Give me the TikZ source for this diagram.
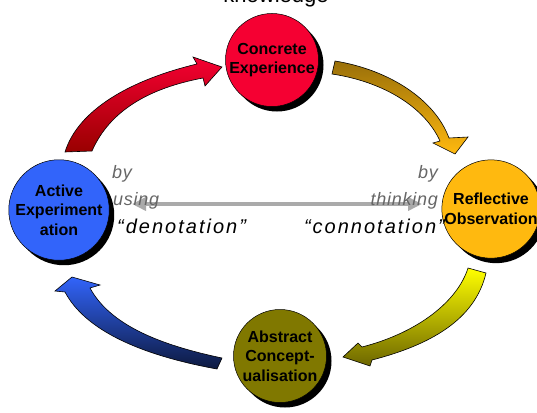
\documentclass[tikz,border=0pt]{standalone}
\usepackage{fontspec}
\setmainfont{Liberation Sans}
\usepackage{tikz}
\usetikzlibrary{shadows,arrows.meta}
\definecolor{cered}{RGB}{245,0,50}
\definecolor{ceblue}{RGB}{50,100,250}
\definecolor{ceorange}{RGB}{255,185,15}
\definecolor{ceolive}{RGB}{128,120,0}
\definecolor{barcol}{RGB}{170,170,170}

\begin{document}
\begin{tikzpicture}[x=1pt,y=-1pt,
    stage/.style={circle, draw=black, line width=0.5pt, minimum size=93pt, inner sep=0pt,
      align=center, font=\fontsize{16}{19.5}\selectfont\bfseries,
      drop shadow={shadow xshift=5pt, shadow yshift=-5pt, opacity=1, fill=black}},
    hint/.style={inner sep=0pt, text=black!60,
      font=\fontsize{18}{18}\selectfont\itshape\addfontfeatures{LetterSpace=4}},
    term/.style={inner sep=0pt,
      font=\fontsize{20}{20}\selectfont\itshape\addfontfeatures{LetterSpace=10}},
    fat/.style={draw=black, line width=0.6pt}]
    \useasboundingbox (0,0) rectangle (537,412);
    %% big curved arrows
    \shade[fat, top color=cered, bottom color=red!60!black]
      (65,152) .. controls (78,110) and (130,80) .. (197,64) -- (193,57) -- (222,67)
      -- (205,86) -- (203,78) .. controls (150,88) and (110,110) .. (92,151) -- cycle;
    \shade[fat, top color=ceorange!60!black, bottom color=ceorange]
      (335,61) .. controls (390,70) and (435,100) .. (449,138) -- (468,137) -- (455,154)
      -- (433,143) -- (440,141) .. controls (425,108) and (385,82) .. (332,74) -- cycle;
    \shade[fat, top color=yellow, bottom color=ceolive!85!black]
      (468,268) -- (486,273) .. controls (475,320) and (430,345) .. (372,360) -- (370,366)
      -- (343,357) -- (358,343) -- (362,347) .. controls (420,332) and (458,300) .. (468,268) -- cycle;
    \shade[fat, top color=ceblue, bottom color=ceblue!25!black]
      (217,369) .. controls (140,355) and (85,330) .. (65,292) -- (55,291) -- (72,277)
      -- (100,285) -- (90,288) .. controls (110,325) and (160,345) .. (222,358) -- cycle;
    %% the four stages
    \node[stage, fill=cered] (CE) at (272,60) {Concrete\\Experience};
    \node[stage, fill=ceblue] (AE) at (59,210) {Active\\Experiment\\ation};
    \node[stage, fill=ceorange] (RO) at (491,209) {Reflective\\Observation};
    \node[stage, fill=ceolive] (AC) at (280,356) {Abstract\\Concept-\\ualisation};
    \node[font=\fontsize{22}{22}\selectfont, anchor=base] (know) at (276,3) {knowledge};
    %% middle
    \coordinate (lt) at (132,204);
    \coordinate (rt) at (422,204);
    \draw[barcol, line width=3.5pt, {Triangle[length=14pt,width=13pt]}-{Triangle[length=14pt,width=13pt]}] (lt) -- (rt);
    \node[hint, anchor=base west] (by1) at (112,178) {by};
    \node[hint, anchor=base west] (using) at (113,205) {using};
    \node[term, anchor=base west] (deno) at (117,233) {“denotation”};
    \node[hint, anchor=base east] (by2) at (438,178) {by};
    \node[hint, anchor=base east] (think) at (438,205) {thinking};
    \node[term, anchor=base east] (conno) at (445,233) {“connotation”};
\end{tikzpicture}
\end{document}
